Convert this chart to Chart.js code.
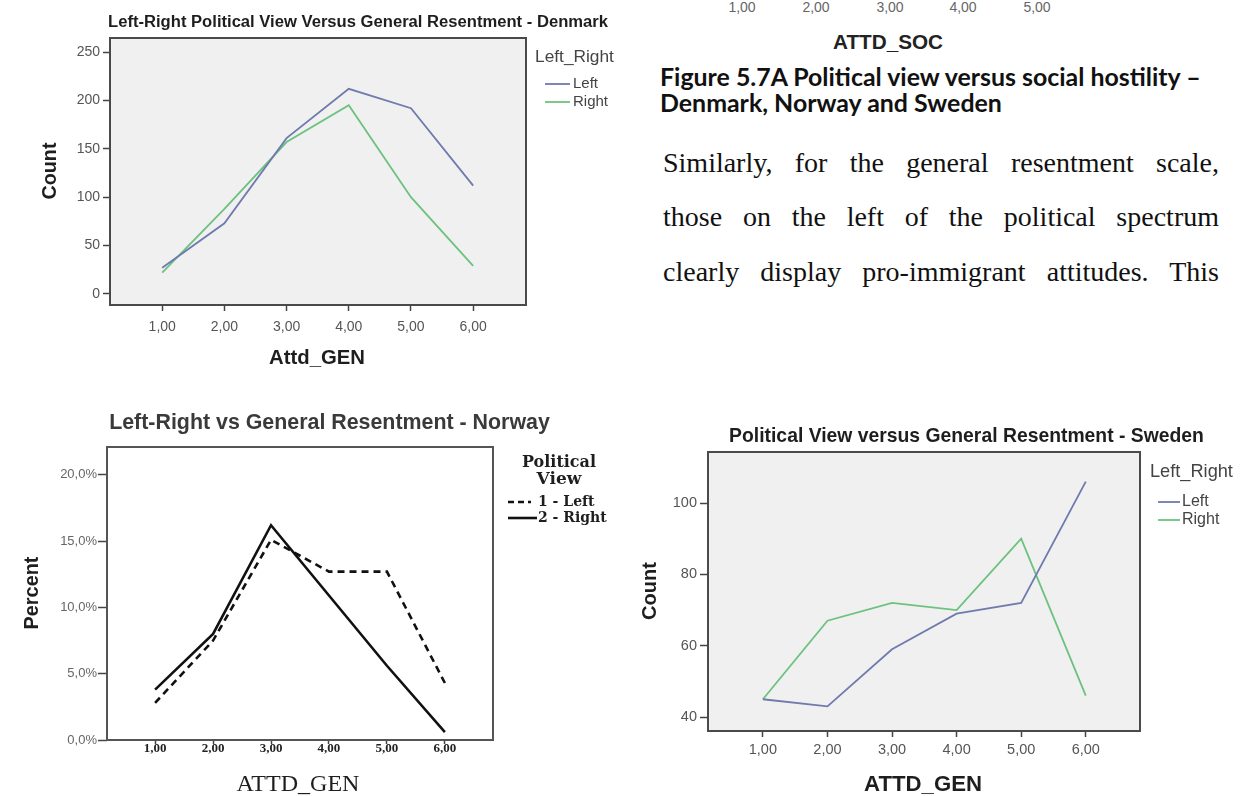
<!DOCTYPE html>
<html><head><meta charset="utf-8">
<script src="https://cdn.jsdelivr.net/npm/chart.js@4.4.1/dist/chart.umd.min.js"></script>
<style>
html,body{margin:0;padding:0;background:#fff;}
body{width:1243px;height:796px;position:relative;overflow:hidden;}
.wrap{position:absolute;}
.t{position:absolute;white-space:nowrap;line-height:1;}
.p{position:absolute;white-space:nowrap;text-align:justify;text-align-last:justify;line-height:1;}
</style></head><body>
<div class="wrap" style="left:0;top:0"><canvas id="dk" width="640" height="380"></canvas></div>
<div class="wrap" style="left:0;top:400px"><canvas id="no" width="640" height="396"></canvas></div>
<div class="wrap" style="left:620px;top:400px"><canvas id="se" width="623" height="396"></canvas></div>
<script>
// ---------- data ----------
const categories = [1, 2, 3, 4, 5, 6];
const xTickLabels = ['1,00', '2,00', '3,00', '4,00', '5,00', '6,00'];
const seriesNames = ['Left', 'Right'];
const norwaySeriesNames = ['1 - Left', '2 - Right'];

const denmarkLeft  = [27, 73, 161, 212, 192, 112];
const denmarkRight = [22, 88, 157, 195, 100, 29];
const denmarkYTicks = [0, 50, 100, 150, 200, 250];

const norwayLeft  = [2.8, 7.5, 15.1, 12.7, 12.7, 4.3];
const norwayRight = [3.8, 8.0, 16.2, 10.9, 5.6, 0.6];
const norwayYTicks = [0, 5, 10, 15, 20];

const swedenLeft  = [45, 43, 59, 69, 72, 106];
const swedenRight = [45, 67, 72, 70, 90, 46];
const swedenYTicks = [40, 60, 80, 100];

const socTickLabels = ['1,00', '2,00', '3,00', '4,00', '5,00'];

const titles = {
  dk: 'Left-Right Political View Versus General Resentment - Denmark',
  no: 'Left-Right vs General Resentment - Norway',
  se: 'Political View versus General Resentment - Sweden'
};
const captionLines = ['Figure 5.7A Political view versus social hostility \u2013', 'Denmark, Norway and Sweden'];
const paragraphLines = [
  'Similarly, for the general resentment scale,',
  'those on the left of the political spectrum',
  'clearly display pro-immigrant attitudes. This'
];

// ---------- helpers ----------
const SANS = '"Liberation Sans", Arial, sans-serif';
const SERIF = '"Liberation Serif", "Times New Roman", serif';
const DSERIF = '"DejaVu Serif", Georgia, serif';

function textPlugin(items) {
  return {
    id: 'txt',
    afterDraw(chart) {
      const ctx = chart.ctx;
      items.forEach(it => {
        ctx.save();
        if (it.line) {
          ctx.beginPath();
          ctx.setLineDash(it.dash || []);
          ctx.strokeStyle = it.color; ctx.lineWidth = it.width;
          ctx.moveTo(it.line[0], it.line[2]); ctx.lineTo(it.line[1], it.line[2]);
          ctx.stroke(); ctx.restore(); return;
        }
        let size = it.size; const wt = it.weight || 'normal';
        ctx.font = `${wt} ${size}px ${it.family}`;
        if (it.w) { const m = ctx.measureText(it.text).width; size = size * it.w / m; ctx.font = `${wt} ${size}px ${it.family}`; }
        ctx.fillStyle = it.color; ctx.textAlign = it.align || 'center'; ctx.textBaseline = 'middle';
        ctx.translate(it.x, it.y); if (it.rot) ctx.rotate(it.rot * Math.PI / 180);
        ctx.fillText(it.text, 0, 0);
        ctx.restore();
      });
    }
  };
}
function framePlugin(bg, border, bw) {
  return {
    id: 'frame',
    beforeDraw(chart) {
      const a = chart.chartArea, ctx = chart.ctx;
      ctx.save(); ctx.fillStyle = bg; ctx.fillRect(a.left, a.top, a.right - a.left, a.bottom - a.top); ctx.restore();
    },
    afterDraw(chart) {
      const a = chart.chartArea, ctx = chart.ctx;
      ctx.save(); ctx.strokeStyle = border; ctx.lineWidth = bw;
      ctx.strokeRect(a.left, a.top, a.right - a.left, a.bottom - a.top); ctx.restore();
    }
  };
}

function makeChart(id, o) {
  const cv = document.getElementById(id);
  const W = cv.width, H = cv.height, XH = 40;
  return new Chart(cv, {
    type: 'line',
    data: {
      datasets: o.series.map(s => ({
        label: s.label,
        data: categories.map((c, i) => ({ x: c, y: s.values[i] })),
        borderColor: s.color, borderWidth: s.width, borderDash: s.dash || [],
        pointRadius: 0, fill: false, tension: 0, borderCapStyle: 'butt', borderJoinStyle: 'miter'
      }))
    },
    options: {
      responsive: false, animation: false, devicePixelRatio: 1,
      layout: { padding: { left: 0, top: o.area.top, right: W - o.area.right, bottom: H - o.area.bottom - XH } },
      plugins: { legend: { display: false }, tooltip: { enabled: false }, title: { display: false } },
      scales: {
        x: {
          type: 'linear', min: o.xmin, max: o.xmax,
          afterFit(s) { s.height = XH; },
          afterBuildTicks(s) { s.ticks = categories.map(v => ({ value: v })); },
          ticks: { callback: (v, i) => xTickLabels[i], font: o.xFont, color: o.xColor, padding: o.xPad, maxRotation: 0, autoSkip: false },
          grid: { display: true, drawOnChartArea: false, drawTicks: true, tickLength: o.xTl, tickColor: '#444', tickWidth: 1.5 },
          border: { display: false }
        },
        y: {
          type: 'linear', min: o.ymin, max: o.ymax,
          afterFit(s) { s.width = o.area.left; },
          afterBuildTicks(s) { s.ticks = o.yTicks.map(v => ({ value: v })); },
          ticks: { callback: o.yFmt, font: o.yFont, color: o.yColor, padding: o.yPad, autoSkip: false },
          grid: { display: true, drawOnChartArea: false, drawTicks: true, tickLength: o.yTl, tickColor: '#444', tickWidth: 1.5 },
          border: { display: false }
        }
      }
    },
    plugins: [framePlugin(o.bg, o.frame, 2), textPlugin(o.texts)]
  });
}

const BLUE = '#6f7aae', GREEN = '#6cc27e', DARK = '#1e1e1e';

// ---------- Denmark ----------
makeChart('dk', {
  area: { left: 110, right: 526, top: 38, bottom: 305 },
  xmin: 0.16, xmax: 6.85, ymin: -11.4, ymax: 264.5, yTicks: denmarkYTicks,
  yFmt: v => String(v),
  xFont: { family: SANS, size: 14 }, xColor: '#555', xPad: 8, xTl: 6,
  yFont: { family: SANS, size: 14 }, yColor: '#555', yPad: 3, yTl: 7,
  bg: '#f0f0f0', frame: '#4a4a4a',
  series: [
    { label: seriesNames[0], values: denmarkLeft, color: BLUE, width: 1.8 },
    { label: seriesNames[1], values: denmarkRight, color: GREEN, width: 1.8 }
  ],
  texts: [
    { text: titles.dk, x: 358, y: 22, size: 16, weight: 'bold', family: SANS, color: DARK, w: 500 },
    { text: 'Count', x: 51, y: 171, size: 19, weight: 'bold', family: SANS, color: DARK, rot: -90, w: 57 },
    { text: 'Attd_GEN', x: 317, y: 358, size: 20, weight: 'bold', family: SANS, color: DARK, w: 96 },
    { text: 'Left_Right', x: 535, y: 57, size: 17, family: SANS, color: '#444', align: 'left', w: 79 },
    { line: [545, 570, 84], color: BLUE, width: 1.8 },
    { text: seriesNames[0], x: 573, y: 84, size: 15, family: SANS, color: '#444', align: 'left' },
    { line: [545, 570, 102], color: GREEN, width: 1.8 },
    { text: seriesNames[1], x: 573, y: 102, size: 15, family: SANS, color: '#444', align: 'left' }
  ]
});

// ---------- Norway ----------
makeChart('no', {
  area: { left: 107, right: 493, top: 47, bottom: 340 },
  xmin: 0.17, xmax: 6.83, ymin: 0, ymax: 22.1, yTicks: norwayYTicks,
  yFmt: v => v.toFixed(1).replace('.', ',') + '%',
  xFont: { family: SERIF, size: 13, weight: 'bold' }, xColor: '#222', xPad: -3, xTl: 4,
  yFont: { family: SANS, size: 13 }, yColor: '#666', yPad: 1, yTl: 9,
  bg: '#ffffff', frame: '#555',
  series: [
    { label: norwaySeriesNames[0], values: norwayLeft, color: '#111', width: 2.6, dash: [7, 5] },
    { label: norwaySeriesNames[1], values: norwayRight, color: '#111', width: 2.6 }
  ],
  texts: [
    { text: titles.no, x: 329.5, y: 23, size: 21, weight: 'bold', family: SANS, color: '#3a3a3a', w: 441 },
    { text: 'Percent', x: 33, y: 193, size: 20, weight: 'bold', family: SANS, color: DARK, rot: -90, w: 73 },
    { text: 'ATTD_GEN', x: 298, y: 385, size: 23, family: SERIF, color: DARK, w: 123 },
    { text: 'Political', x: 559, y: 63, size: 17, weight: 'bold', family: DSERIF, color: DARK, w: 74 },
    { text: 'View', x: 559, y: 80, size: 17, weight: 'bold', family: DSERIF, color: DARK },
    { line: [508, 531, 102], color: '#111', width: 2.6, dash: [6, 4] },
    { text: norwaySeriesNames[0], x: 538, y: 102, size: 14, weight: 'bold', family: DSERIF, color: DARK, align: 'left' },
    { line: [508, 537, 118], color: '#111', width: 2.6 },
    { text: norwaySeriesNames[1], x: 538, y: 118, size: 14, weight: 'bold', family: DSERIF, color: DARK, align: 'left' }
  ]
});

// ---------- Sweden ----------
makeChart('se', {
  area: { left: 88, right: 520, top: 52, bottom: 331 },
  xmin: 0.15, xmax: 6.84, ymin: 36.1, ymax: 114.3, yTicks: swedenYTicks,
  yFmt: v => String(v),
  xFont: { family: SANS, size: 14.5 }, xColor: '#555', xPad: 4, xTl: 6,
  yFont: { family: SANS, size: 14.5 }, yColor: '#555', yPad: 3, yTl: 8,
  bg: '#f0f0f0', frame: '#4a4a4a',
  series: [
    { label: seriesNames[0], values: swedenLeft, color: BLUE, width: 1.8 },
    { label: seriesNames[1], values: swedenRight, color: GREEN, width: 1.8 }
  ],
  texts: [
    { text: titles.se, x: 346.5, y: 37, size: 19, weight: 'bold', family: SANS, color: DARK, w: 475 },
    { text: 'Count', x: 30, y: 191, size: 20, weight: 'bold', family: SANS, color: DARK, rot: -90, w: 58 },
    { text: 'ATTD_GEN', x: 303, y: 385, size: 21, weight: 'bold', family: SANS, color: DARK, w: 118 },
    { text: 'Left_Right', x: 530, y: 72, size: 18, family: SANS, color: '#444', align: 'left', w: 83 },
    { line: [538, 560, 102], color: BLUE, width: 1.8 },
    { text: seriesNames[0], x: 562, y: 102, size: 16, family: SANS, color: '#444', align: 'left' },
    { line: [538, 560, 120], color: GREEN, width: 1.8 },
    { text: seriesNames[1], x: 562, y: 120, size: 16, family: SANS, color: '#444', align: 'left' }
  ]
});

// ---------- HTML text (top-right) ----------
function placeText(t) {
  const d = document.createElement('div');
  d.className = t.cls || 't';
  d.textContent = t.text;
  d.style.font = `${t.weight || 'normal'} ${t.size}px ${t.family}`;
  d.style.lineHeight = '1';
  d.style.color = t.color;
  if (t.width) d.style.width = t.width + 'px';
  document.body.appendChild(d);
  if (t.w) {
    const m = d.getBoundingClientRect().width;
    d.style.fontSize = (t.size * t.w / m) + 'px';
  }
  const r = d.getBoundingClientRect();
  const left = t.align === 'left' ? t.x : t.x - r.width / 2;
  d.style.left = left + 'px';
  d.style.top = (t.y - r.height / 2) + 'px';
  return d;
}
const socX = [742, 816, 890, 963, 1037];
socTickLabels.forEach((s, i) => placeText({ text: s, x: socX[i], y: 7, size: 14, family: SANS, color: '#666' }));
placeText({ text: 'ATTD_SOC', x: 888, y: 42, size: 20, weight: 'bold', family: SANS, color: '#222', w: 110 });
const cap1 = placeText({ text: captionLines[0], x: 660, y: 76, size: 20, weight: 'bold', family: 'Lato, "Open Sans", sans-serif', color: '#111', align: 'left', w: 541 });
const capSize = parseFloat(cap1.style.fontSize);
placeText({ text: captionLines[1], x: 660, y: 102, size: capSize, weight: 'bold', family: 'Lato, "Open Sans", sans-serif', color: '#111', align: 'left' });
const paraY = [163, 217, 272];
paragraphLines.forEach((s, i) => placeText({ text: s, cls: 'p', x: 663, y: paraY[i], size: 28, family: SERIF, color: '#111', align: 'left', width: 556 }));
</script>
</body></html>
